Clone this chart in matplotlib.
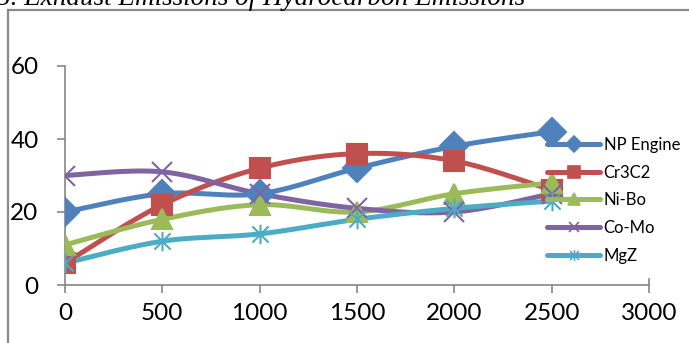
import numpy as np
import matplotlib
matplotlib.use("Agg")
import matplotlib.pyplot as plt
from matplotlib.path import Path
from matplotlib.lines import Line2D

# engine speed (rpm) and hydrocarbon emissions for each coating
speed = [0, 500, 1000, 1500, 2000, 2500]
np_engine = [20, 25, 25, 32, 38, 42]
cr3c2 = [6, 22, 32, 36, 34, 26]
ni_bo = [11, 18, 22, 20, 25, 28]
co_mo = [30, 31, 25, 21, 20, 25]
mgz = [6, 12, 14, 18, 21, 23]

labels = ["NP Engine", "Cr3C2", "Ni-Bo", "Co-Mo", "MgZ"]
colors = ["#4F81BD", "#C0504D", "#9BBB59", "#8064A2", "#4BACC6"]

star = Path([(-1, -1), (1, 1), (-1, 1), (1, -1), (0, -1.2), (0, 1.2)],
            [Path.MOVETO, Path.LINETO] * 3)
markers = ["D", "s", "^", "x", star]
msizes = [14, 15, 15, 14, 14]


def smooth(x, y, n=40):
    # Bezier curve through the points, like a spreadsheet "smoothed line"
    x = np.asarray(x, float)
    y = np.asarray(y, float)
    px = np.concatenate([[x[0]], x, [x[-1]]])
    py = np.concatenate([[y[0]], y, [y[-1]]])
    t = np.linspace(0, 1, n)[:, None]
    xs, ys = [], []
    for i in range(1, len(x)):
        p0 = np.array([px[i], py[i]])
        p3 = np.array([px[i + 1], py[i + 1]])
        c1 = p0 + (p3 - np.array([px[i - 1], py[i - 1]])) / 6
        c2 = p3 - (np.array([px[i + 2], py[i + 2]]) - p0) / 6
        b = ((1 - t) ** 3) * p0 + 3 * ((1 - t) ** 2) * t * c1 \
            + 3 * (1 - t) * t ** 2 * c2 + t ** 3 * p3
        xs.append(b[:, 0])
        ys.append(b[:, 1])
    return np.concatenate(xs), np.concatenate(ys)


fig = plt.figure(figsize=(6.89, 3.43), dpi=100)
ax = fig.add_axes([65 / 689, 1 - 285 / 343, 584 / 689, 219 / 343])

series = [np_engine, cr3c2, ni_bo, co_mo, mgz]
handles = []
for vals, lab, col, mk, ms in zip(series, labels, colors, markers, msizes):
    sx, sy = smooth(speed, vals)
    ax.plot(sx, sy, color=col, lw=3.6, solid_capstyle="round", zorder=2)
    ax.plot(speed, vals, ls="none", marker=mk, ms=ms, color=col,
            mec=col, mew=1.5, zorder=3)
    handles.append(Line2D([], [], color=col, lw=3.6, marker=mk,
                          ms=ms * 0.55, mec=col, mew=1.2,
                          solid_capstyle="round"))

ax.set_xlim(0, 3000)
ax.set_ylim(0, 60)
ax.set_xticks(range(0, 3001, 500))
ax.set_yticks(range(0, 61, 20))

for s in ["top", "right"]:
    ax.spines[s].set_visible(False)
for s in ["left", "bottom"]:
    ax.spines[s].set_color("#868686")
    ax.spines[s].set_linewidth(1.2)
ax.tick_params(axis="both", color="#868686", width=1.2, length=6,
               direction="out", labelsize=17.5, labelcolor="black")
ax.tick_params(axis="x", pad=7)
ax.tick_params(axis="y", pad=13)
for lab in ax.get_xticklabels() + ax.get_yticklabels():
    lab.set_family("Lato")
# closing tick at the right end of the x axis
ax.plot([3000, 3000], [0, 1.6], color="#868686", lw=1.2, clip_on=False)

leg = ax.legend(handles, labels, loc="upper left",
                bbox_to_anchor=(547 / 689, 1 - 137 / 343),
                bbox_transform=fig.transFigure, frameon=False,
                borderpad=0, borderaxespad=0, handlelength=3.2,
                handletextpad=0.2, labelspacing=0.7,
                prop={"family": "Lato", "size": 12})

# border of the chart box and the caption above it
fig.add_artist(Line2D([7.5 / 689, 7.5 / 689], [0, 1 - 9.5 / 343],
                      color="#8a8a8a", lw=1.6))
fig.add_artist(Line2D([7.5 / 689, 1], [1 - 9.5 / 343, 1 - 9.5 / 343],
                      color="#8a8a8a", lw=1.6))
fig.text(-0.004, 1 - 5 / 343, "5. Exhaust Emissions of Hydrocarbon Emissions",
         family="Liberation Serif", style="italic", fontsize=19.5,
         va="baseline", ha="left")

fig.savefig("out.png", dpi=100)
